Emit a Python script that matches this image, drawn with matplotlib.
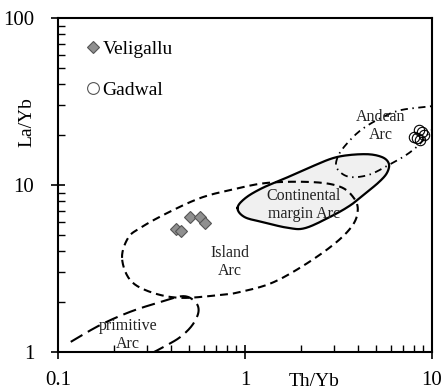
import numpy as np
import matplotlib
matplotlib.use("Agg")
import matplotlib.pyplot as plt
from matplotlib.lines import Line2D

plt.rcParams['font.family'] = ['Liberation Serif', 'DejaVu Serif']

# sample data (Th/Yb, La/Yb)
veli_th = [0.428, 0.455, 0.508, 0.574, 0.611]
veli_la = [5.45, 5.30, 6.43, 6.43, 5.92]
gad_th = [8.0, 8.5, 8.83, 9.05, 8.63, 8.31]
gad_la = [19.4, 21.3, 20.8, 19.9, 18.6, 19.1]

# field boundaries
island_x = [0.220, 0.237, 0.275, 0.384, 0.577, 0.836, 1.32, 2.33, 3.25, 3.82,
            4.01, 3.77, 3.05, 2.08, 1.39, 0.946, 0.748, 0.451, 0.311, 0.243]
island_y = [3.66, 4.82, 5.53, 6.80, 8.36, 9.33, 10.3, 10.4, 9.73, 8.36,
            7.08, 5.76, 4.50, 3.32, 2.59, 2.29, 2.20, 2.11, 2.29, 2.70]

prim_x = [0.117, 0.168, 0.243, 0.352, 0.468, 0.543, 0.564, 0.523, 0.451, 0.375, 0.304]
prim_y = [1.15, 1.45, 1.74, 1.99, 2.16, 1.99, 1.74, 1.45, 1.23, 1.086, 0.96]

cont_x = [0.912, 1.006, 1.24, 1.65, 2.24, 3.10, 4.38, 5.40, 5.88, 5.74,
          5.20, 4.43, 3.68, 2.91, 2.11, 1.71, 1.24, 0.994]
cont_y = [7.28, 8.36, 9.6, 11.0, 12.8, 14.7, 15.3, 14.7, 13.4, 11.8,
          10.4, 8.96, 7.59, 6.52, 5.53, 5.53, 6.0, 6.43]

andean_x = [11.9, 10.1, 6.82, 5.33, 4.16, 3.46, 3.13, 3.10, 3.59, 4.59,
            5.88, 7.26, 8.51, 9.64, 11.2]
andean_y = [30.5, 29.7, 28.1, 25.2, 21.3, 17.4, 14.7, 12.6, 11.2, 11.5,
            13.2, 15.1, 17.4, 20.5, 24.5]


def smooth(xs, ys, closed=False, n=14):
    # Catmull-Rom through the outline points, in log space
    P = np.column_stack([np.log10(xs), np.log10(ys)])
    if closed:
        P = np.vstack([P[-1], P, P[0], P[1]])
    else:
        P = np.vstack([P[0], P, P[-1]])
    t = np.linspace(0, 1, n, endpoint=False)[:, None]
    out = []
    for i in range(1, len(P) - 2):
        p0, p1, p2, p3 = P[i - 1], P[i], P[i + 1], P[i + 2]
        out.append(0.5 * (2 * p1 + (-p0 + p2) * t
                          + (2 * p0 - 5 * p1 + 4 * p2 - p3) * t ** 2
                          + (-p0 + 3 * p1 - 3 * p2 + p3) * t ** 3))
    out.append(P[-2][None])
    pts = 10 ** np.vstack(out)
    return pts[:, 0], pts[:, 1]


fig = plt.figure(figsize=(4.42, 3.90), dpi=100)
ax = fig.add_axes([58 / 442, 38 / 390, 374 / 442, 334 / 390])
ax.set_xscale('log')
ax.set_yscale('log')
ax.set_xlim(0.1, 10)
ax.set_ylim(1, 100)

cx, cy = smooth(cont_x, cont_y, closed=True)
ax.fill(cx, cy, color='#f0f0f0', zorder=1)
ax.plot(cx, cy, color='black', lw=1.6, zorder=3)

ix, iy = smooth(island_x, island_y, closed=True)
ax.plot(ix, iy, color='black', lw=1.5, ls=(0, (3.8, 2.4)), zorder=2)

px, py = smooth(prim_x, prim_y)
ax.plot(px, py, color='black', lw=1.5, ls=(0, (6.5, 3.0)), zorder=2)

axx, ayy = smooth(andean_x, andean_y)
ax.plot(axx, ayy, color='black', lw=1.3, ls=(0, (4.0, 2.5, 0.8, 2.5)), zorder=2)

ax.plot(veli_th, veli_la, 'D', ms=6.5, mfc='#8f8f8f', mec='#555555', mew=0.8, ls='none', zorder=4)
ax.plot(gad_th, gad_la, 'o', ms=7.5, mfc='none', mec='black', mew=0.8, ls='none', zorder=4)

lab = dict(fontsize=11.5, color='#222222', ha='center', va='center', linespacing=1.15, zorder=5)
ax.text(5.3, 22.5, 'Andean\nArc', **lab)
ax.text(2.06, 7.6, 'Continental\nmargin Arc', **lab)
ax.text(0.826, 3.46, 'Island\nArc', **lab)
ax.text(0.237, 1.26, 'primitive\nArc', **lab)

handles = [Line2D([], [], marker='D', ms=6.5, mfc='#8f8f8f', mec='#555555', mew=0.8, ls='none'),
           Line2D([], [], marker='o', ms=8.5, mfc='none', mec='#555555', mew=0.8, ls='none')]
ax.legend(handles, ['Veligallu', 'Gadwal'], loc='upper left', bbox_to_anchor=(0.067, 0.933),
          frameon=False, fontsize=14, handlelength=1.0, handletextpad=0.0,
          borderpad=0, borderaxespad=0, labelspacing=1.2)

ax.set_xticks([0.1, 1, 10], ['0.1', '1', '10'])
ax.set_yticks([1, 10, 100], ['1', '10', '100'])
ax.tick_params(which='major', direction='inout', length=10, width=1.2, labelsize=15)
ax.tick_params(axis='x', which='major', pad=9)
ax.tick_params(axis='y', which='major', pad=12)
ax.tick_params(which='minor', direction='in', length=5, width=1.0)
for s in ax.spines.values():
    s.set_linewidth(1.5)

ax.set_xlabel('Th/Yb', fontsize=14, va='baseline')
ax.xaxis.set_label_coords((314 - 58) / 374, (352 - 386) / 334)
ax.set_ylabel('La/Yb', fontsize=14, va='center')
ax.yaxis.set_label_coords((27 - 58) / 374, (352 - 122) / 334)

fig.savefig('out.png', dpi=100)
